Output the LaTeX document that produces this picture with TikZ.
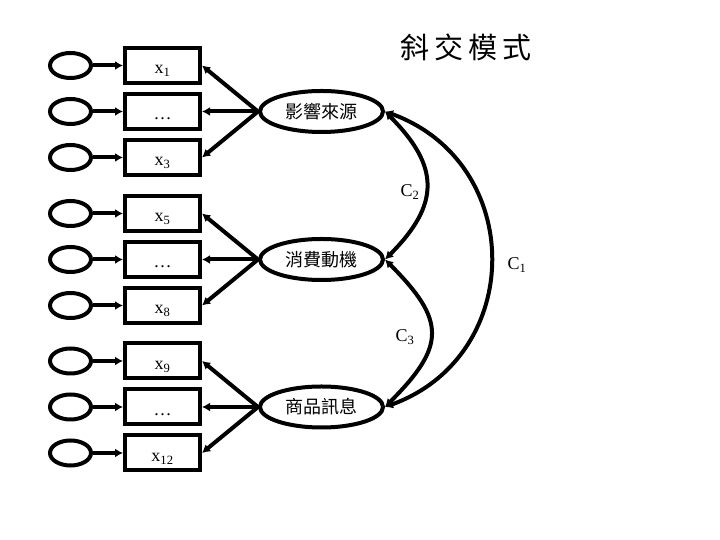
\documentclass[tikz,border=0pt]{standalone}
\usepackage{fontspec}
\setmainfont{Liberation Serif}
\newfontfamily\cjk{Noto Sans CJK TC}
\usetikzlibrary{arrows.meta, positioning, shapes.geometric}

\begin{document}
\begin{tikzpicture}[
    x=1pt, y=1pt,
    font=\fontsize{18}{21}\selectfont,
    obs/.style={draw, line width=4pt, inner sep=0pt,
        minimum width=75pt, minimum height=35pt,
        text height=17pt, text depth=0pt},
    err/.style={draw, ellipse, line width=4pt,
        minimum width=41pt, minimum height=25pt},
    lat/.style={draw, ellipse, line width=4pt, inner sep=1pt,
        minimum width=123pt, minimum height=41pt,
        font=\cjk\fontsize{18}{21}\selectfont},
    load/.style={-{Latex[length=8pt,width=9pt]}, line width=4pt},
    cov/.style={{Latex[length=8pt,width=9pt]}-{Latex[length=8pt,width=9pt]},
        line width=4pt},
    lbl/.style={font=\fontsize{18}{21}\selectfont},
]
\useasboundingbox (0,0) rectangle (720,540);

% ============ tres factores, tres indicadores cada uno ============
\foreach \g/\yc/\name/\first/\last in
    {1/428.5/影響來源/1/3, 2/280.5/消費動機/5/8, 3/133/商品訊息/9/12}{
  \node[obs] (b\g2) at (162.5,\yc) {\dots};
  \node[obs, above=7pt of b\g2] (b\g1) {x\textsubscript{\first}};
  \node[obs, below=7pt of b\g2] (b\g3) {x\textsubscript{\last}};
  \node[lat, right=56pt of b\g2] (l\g) {\name};
  \foreach \r in {1,2,3}{
    \node[err, left=30pt of b\g\r] (e\g\r) {};
    \draw[load] (e\g\r) -- (b\g\r);
    \draw[load] (l\g.west) -- (b\g\r.east);
  }
}

% ============ covarianzas ============
\draw[cov] (l1.east) to[out=-45, in=45, looseness=1.35] (l2.east);
\draw[cov] (l2.east) to[out=-45, in=45, looseness=1.5] (l3.east);
\draw[cov] (l1.east) to[out=-20, in=20, looseness=1.3] (l3.east);

\node[lbl] (c2) at (410,348) {C\textsubscript{2}};
\node[lbl] (c3) at (405,203) {C\textsubscript{3}};
\node[lbl] (c1) at (517,275) {C\textsubscript{1}};

% titulo
\node[font=\cjk\fontsize{29}{32}\selectfont] (title) at (466,493)
    {斜\hspace{5pt}交\hspace{5pt}模\hspace{5pt}式};

\end{tikzpicture}
\end{document}
